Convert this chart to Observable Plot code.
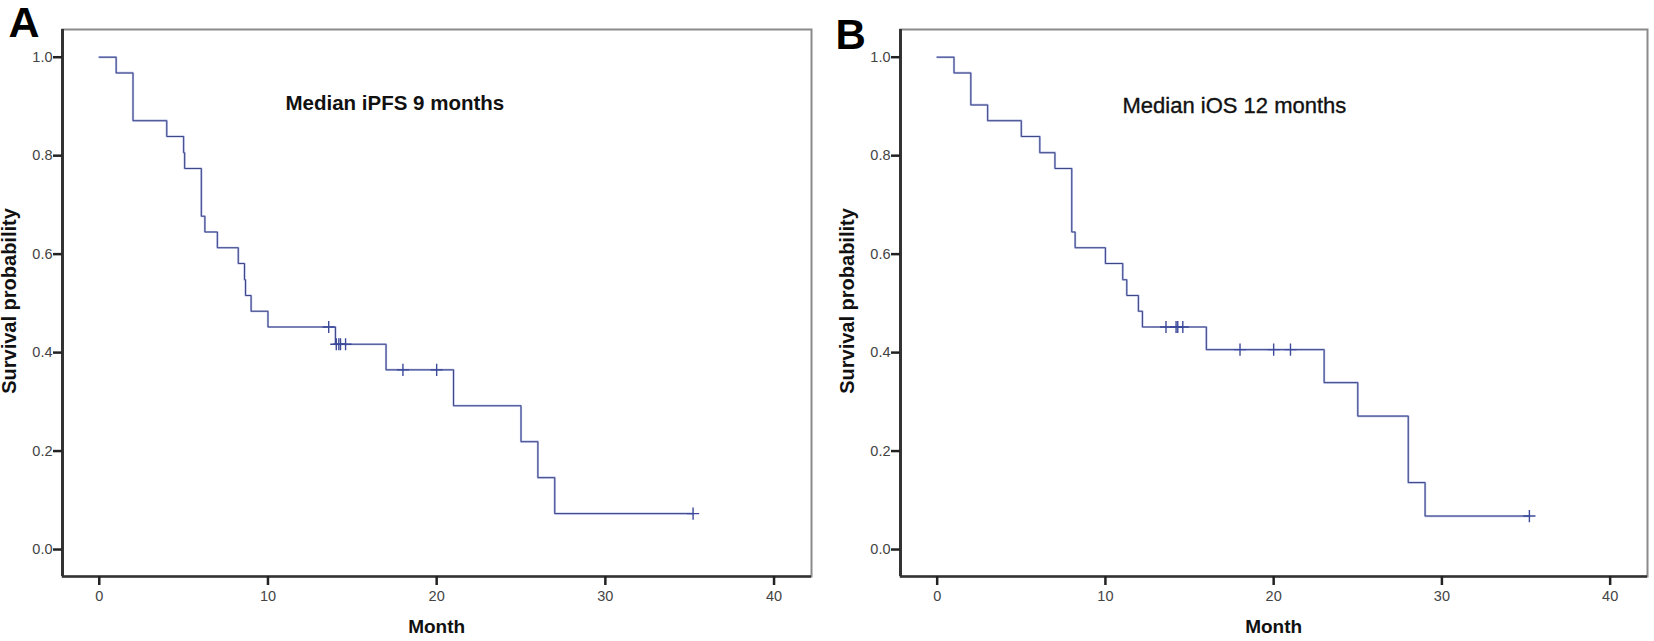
<!DOCTYPE html>
<html>
<head>
<meta charset="utf-8">
<script src="https://cdn.jsdelivr.net/npm/d3@7"></script>
<script src="https://cdn.jsdelivr.net/npm/@observablehq/plot@0.6"></script>
<style>
  html, body { margin: 0; padding: 0; background: #fff; }
  #wrap { display: flex; width: 1654px; height: 641px; }
  svg { font-family: "Liberation Sans", Arial, sans-serif; }
  g[aria-label$="tick label"], g[aria-label$="tick label"] text { font-size: 14.5px !important; }
</style>
</head>
<body>
<div id="wrap"></div>
<script>
// ---- Data ----
const monthTicks = [0, 10, 20, 30, 40];
const probTicks = [0.0, 0.2, 0.4, 0.6, 0.8, 1.0];

// Panel A: iPFS Kaplan–Meier steps
const pfsTime = [0, 1, 2, 4, 5, 5.06, 6.05, 6.26, 7, 8.24, 8.61, 8.67, 9, 10, 14, 17, 21, 25, 26, 27, 35.2];
const pfsSurv = [1.0, 0.968, 0.871, 0.839, 0.806, 0.774, 0.677, 0.645, 0.613, 0.581, 0.548, 0.516, 0.484, 0.452, 0.417, 0.365, 0.292, 0.219, 0.146, 0.073, 0.073];
const pfsCensorTime = [13.6, 14.05, 14.2, 14.3, 14.6, 18, 20, 35.2];
const pfsCensorSurv = [0.452, 0.417, 0.417, 0.417, 0.417, 0.365, 0.365, 0.073];

// Panel B: iOS Kaplan–Meier steps
const osTime = [0, 1, 2, 3, 5, 6.1, 7, 8, 8.2, 10, 11.03, 11.27, 11.96, 12.2, 16, 23, 25, 28, 29, 35.2];
const osSurv = [1.0, 0.968, 0.903, 0.871, 0.839, 0.806, 0.774, 0.645, 0.613, 0.581, 0.548, 0.516, 0.484, 0.452, 0.406, 0.339, 0.271, 0.136, 0.068, 0.068];
const osCensorTime = [13.6, 14.2, 14.3, 14.6, 18, 20, 21, 35.2];
const osCensorSurv = [0.452, 0.452, 0.452, 0.452, 0.406, 0.406, 0.406, 0.068];

const panelLetters = ["A", "B"];
const medianLabels = ["Median iPFS 9 months", "Median iOS 12 months"];
const xLabel = "Month";
const yLabel = "Survival probability";

const xDomain = [-2.18, 42.22];
const yDomain = [-0.0548, 1.0563];

function zip(t, s) { return t.map((d, i) => ({t: d, s: s[i]})); }

function panel(cfg) {
  const steps = zip(cfg.time, cfg.surv);
  const cens = zip(cfg.ctime, cfg.csurv);
  return Plot.plot({
    width: 827,
    height: 641,
    marginLeft: cfg.ml,
    marginRight: cfg.mr,
    marginTop: 29,
    marginBottom: 65,
    x: {domain: xDomain, axis: null},
    y: {domain: yDomain, axis: null},
    style: {fontFamily: "'Liberation Sans', Arial, sans-serif", background: "#fff", overflow: "visible", fontSize: "14px"},
    marks: [
      Plot.frame({stroke: "#8a8a8a", strokeWidth: 2}),
      Plot.ruleX([xDomain[0]], {stroke: "#333", strokeWidth: 3}),
      Plot.ruleY([yDomain[0]], {stroke: "#333", strokeWidth: 2.5}),
      Plot.axisX({ticks: monthTicks, tickSize: 9, tickPadding: 5, stroke: "#222", strokeWidth: 2.5, fill: "#444", fontSize: 14.5, label: null, tickFormat: d3.format("d")}),
      Plot.axisY({ticks: probTicks, tickSize: 9, tickPadding: 1, stroke: "#222", strokeWidth: 2.5, fill: "#444", fontSize: 14.5, label: null, tickFormat: d3.format(".1f")}),
      Plot.line(steps, {x: "t", y: "s", curve: "step-after", stroke: "#7383d4", strokeWidth: 2.2, strokeOpacity: 0.55}),
      Plot.line(steps, {x: "t", y: "s", curve: "step-after", stroke: "#3d4483", strokeWidth: 1}),
      Plot.dot(cens, {x: "t", y: "s", symbol: "plus", r: 4, stroke: "#3d4a9a", strokeWidth: 1.4}),
      Plot.text([cfg.letter], {frameAnchor: "top-left", dx: cfg.letterDx, dy: cfg.letterDy, text: d => d, textAnchor: "start", lineAnchor: "bottom", fontSize: cfg.letterSize, fontWeight: "bold", fill: "#000"}),
      Plot.text([cfg.median], {frameAnchor: "top-left", dx: cfg.medDx, dy: cfg.medDy, text: d => d, textAnchor: "start", lineAnchor: "bottom", fontSize: cfg.medSize, fontWeight: cfg.medWeight, fill: "#111", stroke: cfg.medStroke, strokeWidth: 0.35}),
      Plot.text([xLabel], {x: [20], frameAnchor: "bottom", dy: 50, text: d => d, lineAnchor: "middle", fontSize: 19, fontWeight: "bold", fill: "#111"}),
      Plot.text([yLabel], {frameAnchor: "left", dx: -52.5, dy: -2, rotate: -90, text: d => d, lineAnchor: "middle", textAnchor: "middle", fontSize: 20, fontWeight: "bold", fill: "#111"})
    ]
  });
}

const wrap = document.getElementById("wrap");
wrap.append(panel({
  time: pfsTime, surv: pfsSurv, ctime: pfsCensorTime, csurv: pfsCensorSurv,
  ml: 62, mr: 16, letter: panelLetters[0], letterDx: -54, letterDy: 7, letterSize: 43,
  median: medianLabels[0], medDx: 223, medDy: 80.5, medSize: 20.5, medWeight: "bold", medStroke: "none"
}));
wrap.append(panel({
  time: osTime, surv: osSurv, ctime: osCensorTime, csurv: osCensorSurv,
  ml: 73, mr: 7, letter: panelLetters[1], letterDx: -65, letterDy: 19, letterSize: 42,
  median: medianLabels[1], medDx: 222, medDy: 83.5, medSize: 22, medWeight: "normal", medStroke: "#111"
}));
</script>
</body>
</html>
